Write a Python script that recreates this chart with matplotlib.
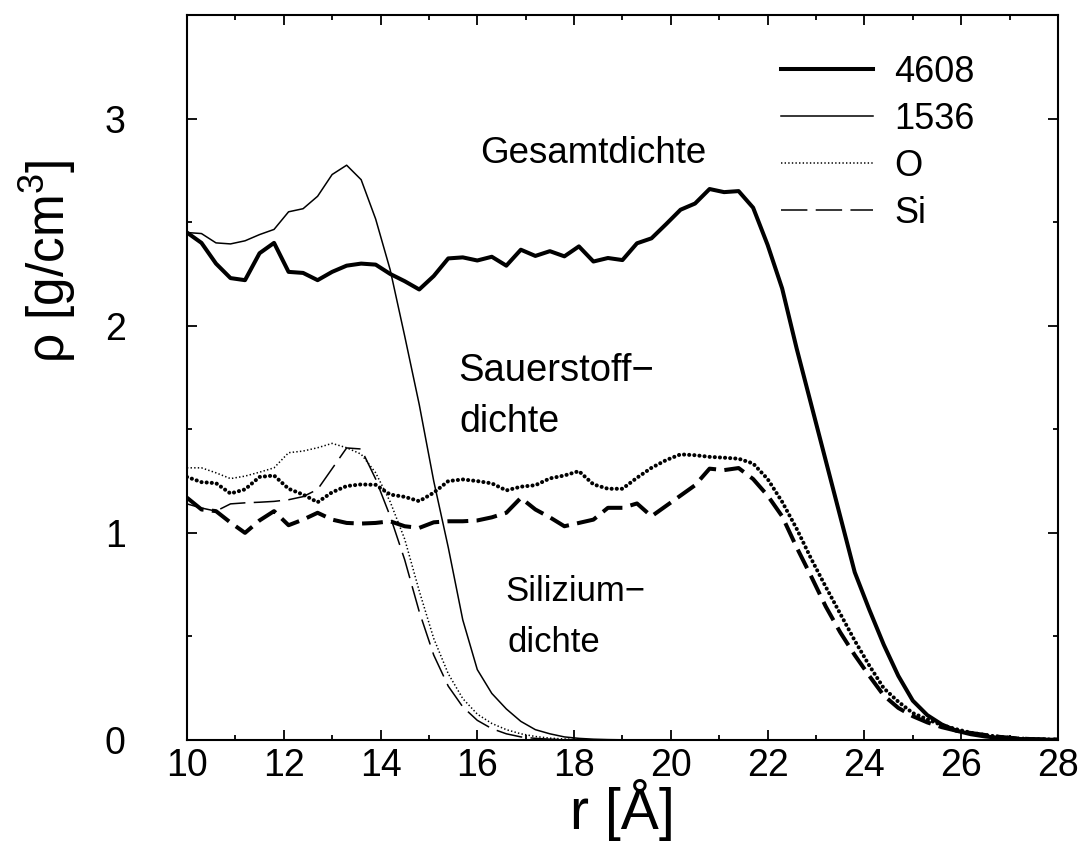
import numpy as np
import matplotlib
matplotlib.use('Agg')
import matplotlib.pyplot as plt

plt.rcParams['font.family'] = ['Liberation Sans', 'DejaVu Sans']
plt.rcParams['mathtext.fontset'] = 'custom'
plt.rcParams['mathtext.rm'] = 'Liberation Sans'
plt.rcParams['lines.scale_dashes'] = False

# radius grid [A]
r = np.linspace(10, 28, 61)

# 4608 Teilchen
rho_4608 = [2.45, 2.40, 2.30, 2.23, 2.22, 2.35, 2.40, 2.26, 2.255, 2.22,
            2.26, 2.29, 2.30, 2.295, 2.25, 2.215, 2.175, 2.24, 2.325, 2.33,
            2.315, 2.333, 2.29, 2.367, 2.337, 2.36, 2.335, 2.383, 2.31, 2.327,
            2.317, 2.398, 2.422, 2.49, 2.56, 2.59, 2.66, 2.645, 2.65, 2.57,
            2.39, 2.18, 1.89, 1.62, 1.35, 1.08, 0.81, 0.63, 0.46, 0.31,
            0.19, 0.12, 0.075, 0.045, 0.028, 0.017, 0.01, 0.006, 0.003, 0.002, 0.001]
O_4608 = [1.27, 1.245, 1.24, 1.19, 1.21, 1.27, 1.277, 1.213, 1.185, 1.148,
          1.196, 1.226, 1.234, 1.232, 1.185, 1.174, 1.153, 1.194, 1.25, 1.258,
          1.25, 1.239, 1.205, 1.223, 1.23, 1.263, 1.277, 1.298, 1.234, 1.213,
          1.213, 1.266, 1.314, 1.351, 1.379, 1.375, 1.367, 1.363, 1.358, 1.335,
          1.26, 1.15, 1.02, 0.875, 0.74, 0.61, 0.48, 0.36, 0.25, 0.185,
          0.13, 0.10, 0.072, 0.052, 0.035, 0.024, 0.015, 0.009, 0.005, 0.003, 0.002]
Si_4608 = [1.17, 1.113, 1.105, 1.05, 1.0, 1.06, 1.105, 1.037, 1.064, 1.097,
           1.064, 1.048, 1.045, 1.048, 1.056, 1.032, 1.024, 1.051, 1.056, 1.056,
           1.06, 1.075, 1.097, 1.169, 1.113, 1.075, 1.032, 1.048, 1.064, 1.121,
           1.121, 1.142, 1.08, 1.13, 1.18, 1.23, 1.31, 1.303, 1.313, 1.26,
           1.18, 1.08, 0.93, 0.79, 0.645, 0.52, 0.41, 0.31, 0.215, 0.155,
           0.115, 0.085, 0.062, 0.045, 0.034, 0.024, 0.015, 0.009, 0.005, 0.003, 0.002]

# 1536 Teilchen
rho_1536 = [2.45, 2.445, 2.40, 2.395, 2.41, 2.44, 2.465, 2.55, 2.565, 2.625,
            2.73, 2.775, 2.705, 2.515, 2.27, 1.95, 1.62, 1.25, 0.93, 0.58,
            0.34, 0.225, 0.15, 0.09, 0.05, 0.03, 0.015, 0.008, 0.004, 0.002, 0.001]
O_1536 = [1.314, 1.314, 1.29, 1.262, 1.274, 1.293, 1.314, 1.387, 1.395, 1.411,
          1.432, 1.411, 1.38, 1.29, 1.15, 0.97, 0.72, 0.49, 0.32, 0.2,
          0.125, 0.08, 0.05, 0.03, 0.017, 0.009, 0.005, 0.002, 0.001]
Si_1536 = [1.14, 1.12, 1.105, 1.14, 1.145, 1.148, 1.152, 1.16, 1.175, 1.21,
           1.31, 1.41, 1.405, 1.26, 1.08, 0.87, 0.62, 0.41, 0.26, 0.16,
           0.095, 0.055, 0.03, 0.015, 0.008, 0.004, 0.002, 0.001]

labels = ['4608', '1536', 'O', 'Si']

fig = plt.figure(figsize=(10.8, 8.44), dpi=100)
ax = fig.add_axes([0.1731, 0.1232, 0.8065, 0.859])

thick = 2.9
thin = 1.1
h1, = ax.plot(r, rho_4608, color='black', lw=thick)
ax.plot(r, O_4608, color='black', lw=thick, dashes=(0.1, 3.6), dash_capstyle='round')
ax.plot(r, Si_4608, color='black', lw=thick, dashes=(15, 6))

h2, = ax.plot(r[:len(rho_1536)], rho_1536, color='black', lw=thin)
h3, = ax.plot(r[:len(O_1536)], O_1536, color='black', lw=thin, dashes=(1, 1.6))
h4, = ax.plot(r[:len(Si_1536)], Si_1536, color='black', lw=thin, dashes=(19, 6))

ax.legend([h1, h2, h3, h4], labels, loc='upper right', bbox_to_anchor=(0.942, 0.99),
          frameon=False, fontsize=26, handlelength=2.55, handletextpad=0.6,
          labelspacing=0.33)

ax.text(16.05, 2.83, 'Gesamtdichte', fontsize=26.5, va='center')
ax.text(15.6, 1.78, 'Sauerstoff\u2212', fontsize=27.5, va='center')
ax.text(15.64, 1.535, 'dichte', fontsize=27, va='center')
ax.text(16.59, 0.716, 'Silizium\u2212', fontsize=25, va='center')
ax.text(16.63, 0.47, 'dichte', fontsize=25, va='center')

ax.set_xlim(10, 28)
ax.set_ylim(0, 3.5)
ax.set_xticks(np.arange(10, 29, 2))
ax.set_xticks(np.arange(10, 29, 1), minor=True)
ax.set_yticks([0, 1, 2, 3])
ax.set_yticks(np.arange(0, 3.6, 0.5), minor=True)
ax.tick_params(which='both', direction='in', top=True, right=True, width=1.3)
ax.tick_params(which='major', length=7.5)
ax.tick_params(which='minor', length=3.8)
ax.tick_params(axis='x', labelsize=27, pad=6)
ax.tick_params(axis='y', labelsize=27, pad=44)
for s in ax.spines.values():
    s.set_linewidth(1.5)

ax.set_xlabel('r [Å]', fontsize=41, labelpad=-4)
ax.set_ylabel('ρ [g/cm$^3$]', fontsize=37)
ax.yaxis.set_label_coords(-0.125, 0.66)

fig.savefig('out.png', dpi=100)
